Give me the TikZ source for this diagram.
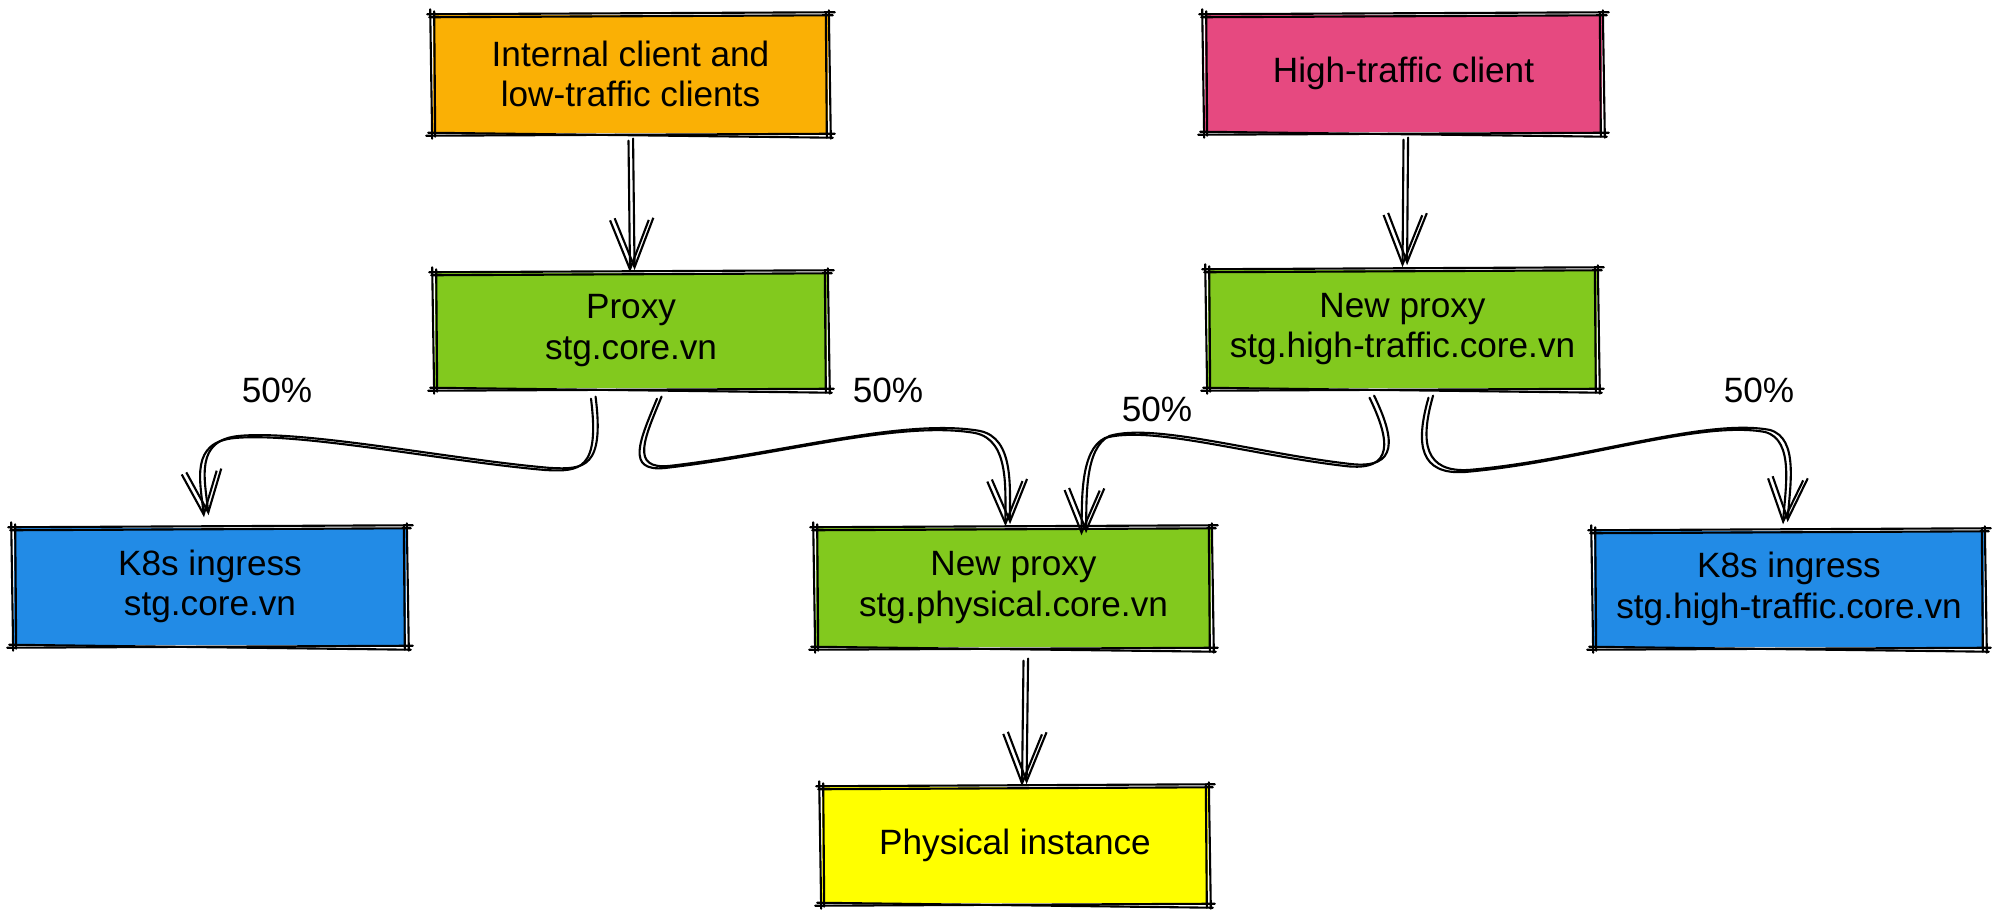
\documentclass[tikz,border=0pt]{standalone}
\usepackage{fontspec}
\setmainfont{Liberation Sans}
\usetikzlibrary{arrows.meta}
\definecolor{corange}{HTML}{FAB005}
\definecolor{cpink}{HTML}{E64980}
\definecolor{cgreen}{HTML}{82C91E}
\definecolor{cblue}{HTML}{228BE6}
\definecolor{cyellow}{HTML}{FFFF00}
\tikzset{
  box/.style={rectangle, draw=none, align=center, inner sep=0pt,
    font=\fontsize{10}{11.5}\selectfont},
  rough/.style={line width=0.6pt, line cap=round},
  conn/.style={line width=0.6pt, line cap=round,
    -{Straight Barb[length=12pt,width=10pt,line width=0.6pt]}},
  conn2/.style={conn, transform canvas={shift={(1.3pt,0.6pt)}}},
  sconn/.style={line width=0.6pt, line cap=round,
    -{Straight Barb[length=14pt,width=11pt,line width=0.6pt]}},
  sconn2/.style={sconn, transform canvas={shift={(1.3pt,0.6pt)}}},
  pct/.style={font=\fontsize{10}{12}\selectfont, inner sep=0pt}
}
\newcommand\roughbox[1]{%
 \draw[rough] ([shift={(-5,0)}]#1.north west) -- ([shift={(6,-2)}]#1.north east);
 \draw[rough] ([shift={(-3,3)}]#1.north west) -- ([shift={(4,1)}]#1.north east);
 \draw[rough] ([shift={(0,-4)}]#1.north east) -- ([shift={(2,5)}]#1.south east);
 \draw[rough] ([shift={(-3,-2)}]#1.north east) -- ([shift={(-2,4)}]#1.south east);
 \draw[rough] ([shift={(6,0)}]#1.south east) -- ([shift={(-6,2)}]#1.south west);
 \draw[rough] ([shift={(4,4)}]#1.south east) -- ([shift={(-4,-1)}]#1.south west);
 \draw[rough] ([shift={(0,5)}]#1.south west) -- ([shift={(-2,-5)}]#1.north west);
 \draw[rough] ([shift={(3,3)}]#1.south west) -- ([shift={(2,-3)}]#1.north west);
}
\begin{document}
\begin{tikzpicture}[x=0.01cm,y=-0.01cm]
\useasboundingbox (0,0) rectangle (2000,919);
% boxes
\node[box, fill=corange, minimum width=3.95cm, minimum height=1.18cm] (orange) at (630.5,74) {Internal client and\\low-traffic clients};
\node[box, fill=cpink, minimum width=3.97cm, minimum height=1.17cm] (pink) at (1403.5,73.5) {High-traffic client};
\node[box, fill=cgreen, minimum width=3.92cm, minimum height=1.15cm] (proxy) at (631,330.5) {Proxy\\stg.core.vn};
\node[box, fill=cgreen, minimum width=3.89cm, minimum height=1.18cm] (ht) at (1402.5,329) {New proxy\\stg.high-traffic.core.vn};
\node[box, fill=cblue, minimum width=3.92cm, minimum height=1.17cm] (k8sL) at (210,586.5) {K8s ingress\\stg.core.vn};
\node[box, fill=cgreen, minimum width=3.95cm, minimum height=1.19cm] (phys) at (1013.5,587.5) {New proxy\\stg.physical.core.vn};
\node[box, fill=cblue, minimum width=3.90cm, minimum height=1.16cm] (k8sR) at (1789,589) {K8s ingress\\stg.high-traffic.core.vn};
\node[box, fill=cyellow, minimum width=3.86cm, minimum height=1.16cm] (yellow) at (1015,845) {Physical instance};
\roughbox{orange}
\roughbox{pink}
\roughbox{proxy}
\roughbox{ht}
\roughbox{k8sL}
\roughbox{phys}
\roughbox{k8sR}
\roughbox{yellow}
% labels
\node[pct] (l1) at (277,390) {50\%};
\node[pct] (l2) at (888,390) {50\%};
\node[pct] (l3) at (1157,409) {50\%};
\node[pct] (l4) at (1759,390) {50\%};
% connector ends
\coordinate (a1) at ([shift={(-2,7)}]orange.south);
\coordinate (a2) at ([shift={(0,7)}]pink.south);
\coordinate (pa) at ([shift={(-40,10)}]proxy.south);
\coordinate (pb) at ([shift={(26,10)}]proxy.south);
\coordinate (hc) at ([shift={(-33,9)}]ht.south);
\coordinate (hd) at ([shift={(26,9)}]ht.south);
\coordinate (ps) at ([shift={(10,13)}]phys.south);
\coordinate (eA) at ([shift={(-6,-10)}]k8sL.north);
\coordinate (eB) at ([shift={(-8,-1)}]phys.north);
\coordinate (eC) at ([shift={(68,8)}]phys.north);
\coordinate (eD) at ([shift={(-6,-6)}]k8sR.north);
% straight arrows
\foreach \s/\t in {conn/sconn, conn2/sconn2} {
  \draw[\t] (a1) -- ([shift={(-1,0)}]proxy.north);
  \draw[\t] (a2) -- ([shift={(0,-2)}]ht.north);
  \draw[\t] (ps) -- ([shift={(7,0)}]yellow.north);
  % curved arrows
  \draw[\s] (pa) .. controls (600,470) and (580,472) .. (545,470)
     .. controls (450,462) and (300,432) .. (235,438)
     .. controls (190,442) and (200,480) .. (eA);
  \draw[\s] (pb) .. controls (640,440) and (625,472) .. (665,468)
     .. controls (780,455) and (900,420) .. (975,433)
     .. controls (1010,440) and (1005,490) .. (eB);
  \draw[\s] (hc) .. controls (1390,440) and (1395,472) .. (1345,466)
     .. controls (1250,455) and (1150,425) .. (1105,438)
     .. controls (1080,450) and (1082,500) .. (eC);
  \draw[\s] (hd) .. controls (1415,445) and (1420,475) .. (1465,472)
     .. controls (1580,462) and (1700,420) .. (1765,432)
     .. controls (1795,440) and (1785,490) .. (eD);
}
\end{tikzpicture}
\end{document}
